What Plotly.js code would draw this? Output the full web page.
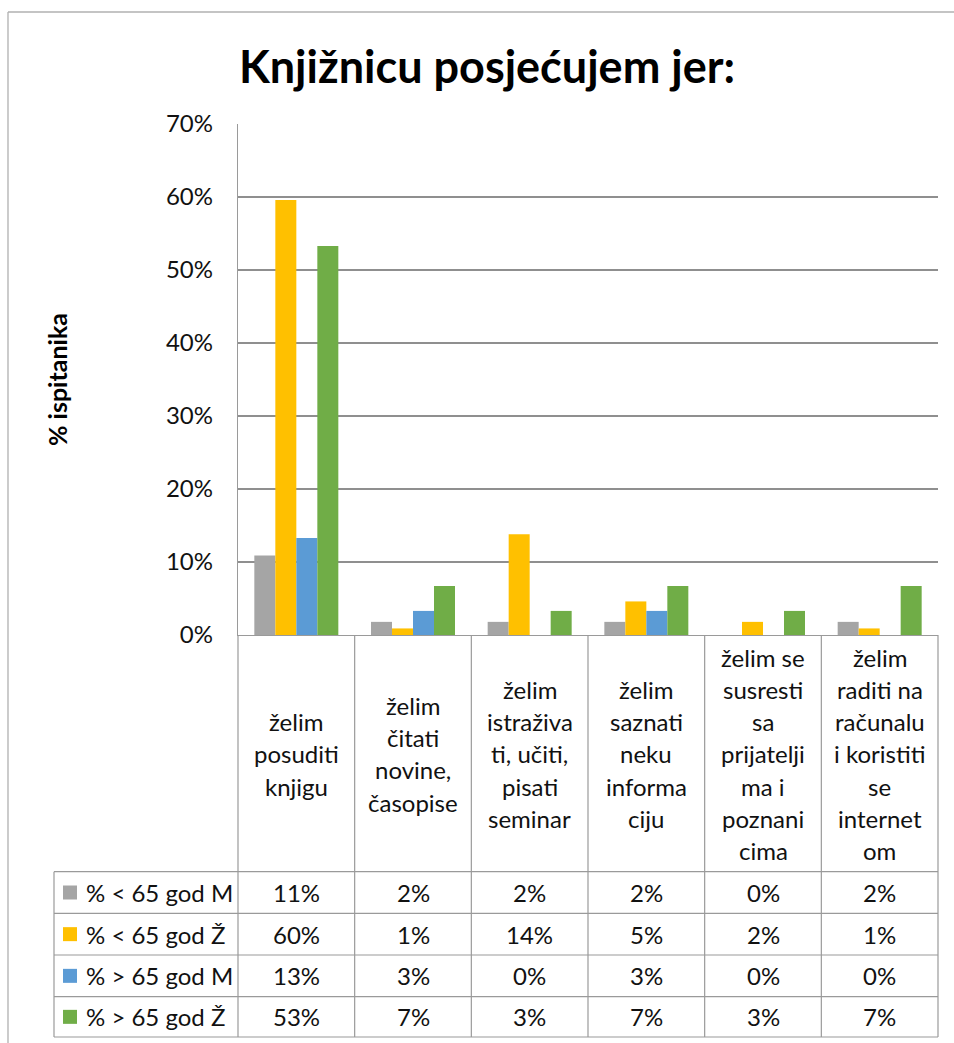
<!DOCTYPE html>
<html>
<head>
<meta charset="utf-8">
<script src="https://cdn.plot.ly/plotly-3.0.1.min.js"></script>
<style>html,body{margin:0;padding:0;background:#fff;}</style>
</head>
<body>
<div id="chart" style="width:954px;height:1043px;"></div>
<script>
// ---- data ----
const categoryLines = [
  ["želim", "posuditi", "knjigu"],
  ["želim", "čitati", "novine,", "časopise"],
  ["želim", "istraživa", "ti, učiti,", "pisati", "seminar"],
  ["želim", "saznati", "neku", "informa", "ciju"],
  ["želim se", "susresti", "sa", "prijatelji", "ma i", "poznani", "cima"],
  ["želim", "raditi na", "računalu", "i koristiti", "se", "internet", "om"]
];
const categories = categoryLines.map(l => l.join(" "));
const seriesNames = ["% < 65 god M", "% < 65 god Ž", "% > 65 god M", "% > 65 god Ž"];
const under65M = [10.9, 1.8, 1.8, 1.8, 0, 1.8];
const under65Z = [59.6, 0.9, 13.8, 4.6, 1.8, 0.9];
const over65M  = [13.3, 3.3, 0, 3.3, 0, 0];
const over65Z  = [53.3, 6.7, 3.3, 6.7, 3.3, 6.7];
const seriesColors = ["#A5A5A5", "#FFC000", "#5B9BD5", "#70AD47"];
const yTickVals = [0, 10, 20, 30, 40, 50, 60, 70];
const yTickText = ["0%", "10%", "20%", "30%", "40%", "50%", "60%", "70%"];
const chartTitle = "Knjižnicu posjećujem jer:";
const yTitle = "% ispitanika";

// ---- layout geometry (pixels) ----
const W = 954, H = 1043;
const L = 238, R = 938, T = 124, B = 635;
const px = x => (x - L) / (R - L);
const py = y => (B - y) / (B - T);
const FONT = "Lato, 'Open Sans', sans-serif";
const lineCol = "#9a9a9a";

const seriesValues = [under65M, under65Z, over65M, over65Z];

const traces = seriesValues.map((vals, i) => ({
  type: "bar",
  name: seriesNames[i],
  x: categories,
  y: vals,
  marker: {color: seriesColors[i], line: {width: 0}},
  hoverinfo: "x+y+name"
}));

const shapes = [];
const annotations = [];

// chart outer border
shapes.push({type: "line", xref: "paper", yref: "paper", x0: px(8), x1: px(8), y0: py(12), y1: py(1080), line: {color: "#b0b0b0", width: 1.3}});
shapes.push({type: "line", xref: "paper", yref: "paper", x0: px(8), x1: px(980), y0: py(12), y1: py(12), line: {color: "#b0b0b0", width: 1.3}});

// data table geometry
const catTop = B, catBottom = 871.7;
const rowLines = [871.7, 913.3, 955, 996.7, 1037];
const tableLeft = 54;
const colW = (R - L) / categories.length;

for (let k = 0; k <= categories.length; k++) {
  const x = L + k * colW;
  shapes.push({type: "line", xref: "paper", yref: "paper", x0: px(x), x1: px(x), y0: py(catTop), y1: py(rowLines[rowLines.length - 1]), line: {color: lineCol, width: 1.2}});
}
shapes.push({type: "line", xref: "paper", yref: "paper", x0: px(tableLeft), x1: px(tableLeft), y0: py(rowLines[0]), y1: py(rowLines[rowLines.length - 1]), line: {color: lineCol, width: 1.2}});
rowLines.forEach(y => {
  shapes.push({type: "line", xref: "paper", yref: "paper", x0: px(tableLeft), x1: px(R), y0: py(y), y1: py(y), line: {color: lineCol, width: 1.2}});
});

// category labels (one annotation per line)
const catCenter = (catTop + catBottom) / 2 + 0.5;
const lineSpacing = 32.2;
categoryLines.forEach((lines, ci) => {
  const n = lines.length;
  lines.forEach((txt, li) => {
    annotations.push({
      xref: "x", yref: "paper", x: categories[ci],
      y: py(catCenter + (li - (n - 1) / 2) * lineSpacing),
      text: txt, showarrow: false, xanchor: "center", yanchor: "middle",
      font: {family: FONT, size: 24, color: "#111"}
    });
  });
});

// table rows: legend keys + values
seriesValues.forEach((vals, si) => {
  const yc = (rowLines[si] + rowLines[si + 1]) / 2;
  shapes.push({type: "rect", xref: "paper", yref: "paper", x0: px(63), x1: px(77), y0: py(yc - 7), y1: py(yc + 7), fillcolor: seriesColors[si], line: {width: 0}});
  annotations.push({
    xref: "paper", yref: "paper", x: px(84), y: py(yc), text: seriesNames[si],
    showarrow: false, xanchor: "left", yanchor: "middle",
    font: {family: FONT, size: 24, color: "#111"}
  });
  vals.forEach((v, ci) => {
    annotations.push({
      xref: "x", yref: "paper", x: categories[ci], y: py(yc),
      text: Math.round(v) + "%", showarrow: false, xanchor: "center", yanchor: "middle",
      font: {family: FONT, size: 24, color: "#111"}
    });
  });
});

const layout = {
  width: W, height: H, autosize: false,
  margin: {l: L, r: W - R, t: T, b: H - B, pad: 0},
  paper_bgcolor: "#fff", plot_bgcolor: "#fff",
  showlegend: false,
  barmode: "group", bargap: 0.28, bargroupgap: 0,
  title: {
    text: chartTitle, xref: "container", yref: "container",
    x: 487 / W, xanchor: "center", y: 1 - 67 / H, yanchor: "middle",
    font: {family: FONT, size: 45, weight: 700, color: "#000"}
  },
  xaxis: {
    type: "category", showticklabels: false, ticks: "",
    showgrid: false, zeroline: false,
    showline: true, linecolor: lineCol, linewidth: 1.2,
    fixedrange: true
  },
  yaxis: {
    range: [0, 70], tickmode: "array", tickvals: yTickVals, ticktext: yTickText, ticks: "",
    ticklabelstandoff: 19,
    tickfont: {family: FONT, size: 24, color: "#111"},
    showgrid: true, gridcolor: "#8f8f8f", gridwidth: 1.3,
    zeroline: false, showline: true, linecolor: lineCol, linewidth: 1.2,
    title: {text: yTitle, standoff: 91, font: {family: FONT, size: 25, weight: 700, color: "#000"}},
    fixedrange: true
  },
  shapes: shapes,
  annotations: annotations,
  font: {family: FONT}
};

Plotly.newPlot("chart", traces, layout, {displayModeBar: false, staticPlot: true});
</script>
</body>
</html>
